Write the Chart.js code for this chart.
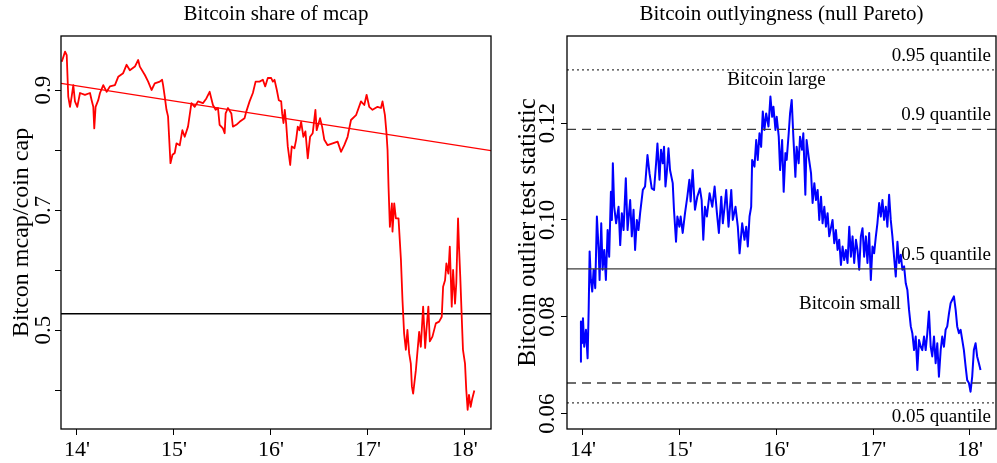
<!DOCTYPE html>
<html>
<head>
<meta charset="utf-8">
<script src="https://cdn.jsdelivr.net/npm/chart.js@4.4.1/dist/chart.umd.min.js"></script>
<style>
  html, body { margin: 0; padding: 0; background: #fff; }
  #wrap { position: relative; width: 997px; height: 463px; }
  #shareChart { position: absolute; left: 0; top: 0; }
  #outChart { position: absolute; left: 498px; top: 0; }
</style>
</head>
<body>
<div id="wrap">
  <canvas id="shareChart" width="498" height="463"></canvas>
  <canvas id="outChart" width="499" height="463"></canvas>
</div>
<script>
// ---- data ----
const yearTicks = [14, 15, 16, 17, 18];
const yearLabels = ["14'", "15'", "16'", "17'", "18'"];
const yearMin = 13.835, yearMax = 18.27;

// left panel: bitcoin share of total coin cap
const shareYears = [13.843,13.877,13.894,13.910,13.928,13.945,13.962,13.979,14.003,14.031,
  14.082,14.134,14.151,14.168,14.178,14.192,14.219,14.237,14.271,14.306,
  14.340,14.391,14.425,14.476,14.511,14.545,14.597,14.631,14.648,14.700,
  14.734,14.769,14.802,14.854,14.878,14.888,14.905,14.923,14.939,14.964,
  14.985,15.008,15.026,15.060,15.087,15.111,15.145,15.170,15.180,15.214,
  15.248,15.299,15.334,15.368,15.402,15.430,15.454,15.471,15.505,15.523,
  15.533,15.557,15.592,15.608,15.643,15.677,15.728,15.746,15.780,15.814,
  15.842,15.883,15.917,15.941,15.968,16.003,16.020,16.037,16.061,16.081,
  16.106,16.116,16.130,16.143,16.157,16.174,16.199,16.215,16.243,16.260,
  16.277,16.294,16.312,16.335,16.356,16.380,16.404,16.431,16.459,16.472,
  16.507,16.528,16.551,16.585,16.637,16.688,16.723,16.757,16.791,16.826,
  16.878,16.929,16.963,16.987,17.014,17.048,17.100,17.135,17.151,17.176,
  17.192,17.203,17.213,17.227,17.248,17.254,17.272,17.289,17.316,17.341,
  17.357,17.374,17.392,17.408,17.426,17.443,17.454,17.467,17.495,17.529,
  17.546,17.570,17.591,17.604,17.624,17.639,17.666,17.701,17.735,17.762,
  17.776,17.796,17.810,17.830,17.845,17.865,17.879,17.899,17.912,17.930,
  17.940,17.953,17.968,17.981,18.002,18.015,18.029,18.043,18.060,18.077,18.098];
const shareValues = [0.947,0.964,0.958,0.889,0.872,0.889,0.908,0.881,0.872,0.895,
  0.892,0.895,0.883,0.872,0.836,0.872,0.883,0.895,0.908,0.897,
  0.906,0.908,0.922,0.928,0.942,0.933,0.939,0.950,0.939,0.925,
  0.914,0.900,0.911,0.914,0.917,0.908,0.889,0.867,0.856,0.778,
  0.792,0.795,0.811,0.808,0.833,0.822,0.839,0.867,0.878,0.872,
  0.881,0.878,0.886,0.897,0.875,0.867,0.870,0.842,0.836,0.828,
  0.861,0.870,0.861,0.839,0.842,0.847,0.853,0.864,0.881,0.895,
  0.914,0.914,0.917,0.906,0.920,0.920,0.914,0.917,0.900,0.883,
  0.881,0.861,0.845,0.867,0.845,0.806,0.775,0.806,0.803,0.817,
  0.839,0.833,0.847,0.822,0.831,0.786,0.822,0.828,0.867,0.833,
  0.853,0.839,0.817,0.808,0.811,0.814,0.797,0.808,0.822,0.850,
  0.858,0.881,0.875,0.892,0.872,0.867,0.872,0.870,0.881,0.858,
  0.828,0.800,0.739,0.672,0.711,0.664,0.711,0.686,0.686,0.617,
  0.550,0.494,0.467,0.500,0.461,0.444,0.406,0.394,0.433,0.497,
  0.472,0.539,0.470,0.500,0.539,0.481,0.489,0.511,0.514,0.522,
  0.572,0.583,0.611,0.594,0.639,0.539,0.600,0.544,0.578,0.686,
  0.639,0.589,0.522,0.467,0.444,0.400,0.367,0.392,0.372,0.386,0.399];
const trendEnds = [0.911, 0.799];   // red fitted line at yearMin / yearMax
const shareMean = 0.527;            // black horizontal line
const shareTicks = [0.4, 0.5, 0.6, 0.7, 0.8, 0.9];
const shareTickLabels = ['', '0.5', '', '0.7', '', '0.9'];

// right panel: outlier test statistic
const outYears = [13.972,13.979,13.990,14.000,14.013,14.031,14.048,14.059,14.069,14.082,
  14.096,14.110,14.127,14.144,14.162,14.172,14.189,14.203,14.220,14.237,
  14.255,14.271,14.289,14.299,14.309,14.323,14.343,14.368,14.385,14.402,
  14.420,14.443,14.461,14.488,14.505,14.523,14.539,14.557,14.574,14.591,
  14.619,14.642,14.667,14.688,14.711,14.735,14.756,14.770,14.791,14.807,
  14.825,14.838,14.853,14.866,14.884,14.900,14.928,14.941,14.962,14.976,
  14.997,15.010,15.031,15.055,15.079,15.100,15.113,15.134,15.158,15.182,
  15.209,15.227,15.244,15.261,15.281,15.309,15.337,15.361,15.385,15.405,
  15.430,15.446,15.464,15.481,15.505,15.533,15.549,15.577,15.601,15.619,
  15.646,15.670,15.688,15.704,15.722,15.739,15.749,15.773,15.791,15.807,
  15.825,15.842,15.859,15.876,15.894,15.918,15.938,15.956,15.969,15.990,
  16.003,16.024,16.038,16.059,16.075,16.093,16.106,16.127,16.141,16.158,
  16.175,16.196,16.209,16.230,16.244,16.265,16.278,16.299,16.312,16.333,
  16.358,16.374,16.392,16.409,16.426,16.443,16.461,16.477,16.495,16.512,
  16.529,16.546,16.580,16.598,16.615,16.632,16.649,16.667,16.684,16.701,
  16.718,16.735,16.753,16.770,16.787,16.804,16.822,16.838,16.856,16.873,
  16.890,16.907,16.925,16.941,16.959,16.976,16.993,17.010,17.028,17.044,
  17.062,17.079,17.096,17.113,17.131,17.147,17.165,17.182,17.199,17.216,
  17.234,17.251,17.268,17.286,17.302,17.320,17.337,17.354,17.371,17.389,
  17.405,17.423,17.440,17.457,17.474,17.492,17.508,17.526,17.543,17.560,
  17.577,17.595,17.611,17.629,17.646,17.663,17.680,17.698,17.714,17.732,
  17.749,17.766,17.784,17.801,17.818,17.835,17.853,17.869,17.887,17.904,
  17.921,17.938,17.956,17.972,17.990,18.007,18.024,18.041,18.059,18.075,18.093,18.110];
const outValues = [0.0707,0.0790,0.0745,0.0797,0.0738,0.0773,0.0714,0.0814,0.0935,0.0876,
  0.0852,0.0897,0.0859,0.1007,0.0938,0.0876,0.0993,0.0897,0.0938,0.0876,
  0.0979,0.0924,0.1058,0.1000,0.1117,0.1027,0.0993,0.1027,0.0948,0.1014,
  0.0979,0.1086,0.0979,0.1041,0.0966,0.1021,0.0938,0.1000,0.0979,0.1014,
  0.1062,0.1069,0.1134,0.1096,0.1065,0.1062,0.1117,0.1158,0.1083,0.1145,
  0.1117,0.1151,0.1069,0.1096,0.1148,0.1103,0.1076,0.1021,0.0955,0.1007,
  0.0986,0.1007,0.0973,0.1014,0.1048,0.1083,0.1038,0.1103,0.1021,0.1048,
  0.1065,0.1041,0.0959,0.1027,0.1007,0.1055,0.1027,0.1069,0.1014,0.0973,
  0.1048,0.0993,0.1027,0.1062,0.0986,0.1062,0.1000,0.1027,0.0986,0.0931,
  0.0993,0.0959,0.0986,0.0945,0.1007,0.1027,0.1124,0.1110,0.1165,0.1124,
  0.1179,0.1151,0.1224,0.1186,0.1220,0.1193,0.1255,0.1213,0.1234,0.1186,
  0.1213,0.1172,0.1103,0.1165,0.1058,0.1138,0.1124,0.1179,0.1220,0.1248,
  0.1172,0.1089,0.1151,0.1117,0.1172,0.1145,0.1179,0.1052,0.1165,0.1131,
  0.1096,0.1035,0.1076,0.1041,0.1062,0.1000,0.1048,0.0993,0.1027,0.0986,
  0.1014,0.0966,0.1000,0.0952,0.0979,0.0938,0.0959,0.0907,0.0945,0.0917,
  0.0938,0.0911,0.0986,0.0924,0.0966,0.0911,0.0959,0.0938,0.0897,0.0966,
  0.0983,0.0924,0.0966,0.0911,0.0973,0.0876,0.0945,0.0931,0.0966,0.0993,
  0.1035,0.1007,0.1041,0.1000,0.1027,0.0986,0.1052,0.1000,0.0966,0.0924,
  0.0883,0.0955,0.0911,0.0928,0.0897,0.0904,0.0869,0.0855,0.0814,0.0780,
  0.0766,0.0731,0.0759,0.0690,0.0752,0.0738,0.0731,0.0759,0.0731,0.0766,
  0.0811,0.0738,0.0718,0.0759,0.0704,0.0745,0.0676,0.0731,0.0759,0.0738,
  0.0773,0.0780,0.0807,0.0828,0.0835,0.0842,0.0814,0.0780,0.0766,0.0773,
  0.0752,0.0731,0.0697,0.0669,0.0663,0.0645,0.0676,0.0731,0.0745,0.0718,0.0704,0.0690];
const quantileNames = ['0.95 quantile', '0.9 quantile', '0.5 quantile', '0.1 quantile', '0.05 quantile'];
const quantileValues = [0.131, 0.1187, 0.0899, 0.0663, 0.0622];
const quantileDash = [[2, 3], [9, 6], [], [9, 6], [2, 3]];
const quantileLabelSide = [1, 1, 1, 0, -1];   // 1 above, -1 below, 0 no label
const outTicks = [0.06, 0.08, 0.10, 0.12];
const noteTexts = ['Bitcoin large', 'Bitcoin small'];
const noteYears = [16.0, 16.76];
const noteValues = [0.1289, 0.0826];

const FONT = '"Liberation Serif", "Times New Roman", serif';

function pts(xs, ys) {
  return xs.map((x, i) => ({ x: x, y: ys[i] }));
}
function hline(v) {
  return [{ x: yearMin, y: v }, { x: yearMax, y: v }];
}

// box around the plot + title above it + text notes
const framePlugin = {
  id: 'frame',
  afterDraw(chart, args, opts) {
    const { ctx, chartArea: a } = chart;
    ctx.save();
    ctx.strokeStyle = '#000';
    ctx.lineWidth = 1.3;
    ctx.strokeRect(a.left, a.top, a.right - a.left, a.bottom - a.top);
    ctx.fillStyle = '#000';
    ctx.font = '21px ' + FONT;
    ctx.textAlign = 'center';
    ctx.textBaseline = 'middle';
    ctx.fillText(opts.title, (a.left + a.right) / 2, 14);

    if (opts.notes) {
      const xs = chart.scales.x, ys = chart.scales.y;
      ctx.font = '19px ' + FONT;
      quantileNames.forEach((name, i) => {
        const side = quantileLabelSide[i];
        if (!side) return;
        ctx.textAlign = 'right';
        ctx.fillText(name, a.right - 5, ys.getPixelForValue(quantileValues[i]) - side * 14);
      });
      ctx.textAlign = 'center';
      noteTexts.forEach((t, i) => {
        ctx.fillText(t, xs.getPixelForValue(noteYears[i]), ys.getPixelForValue(noteValues[i]));
      });
    }
    ctx.restore();
  }
};

function xAxis() {
  return {
    type: 'linear', min: yearMin, max: yearMax,
    afterBuildTicks: s => { s.ticks = yearTicks.map(v => ({ value: v })); },
    afterFit: s => { s.height = 34; },
    border: { display: false },
    grid: { drawOnChartArea: false, drawTicks: true, tickLength: 6, color: '#000', lineWidth: 1 },
    ticks: { color: '#000', font: { family: FONT, size: 22 }, padding: 2, autoSkip: false,
      maxRotation: 0, callback: (v, i) => yearLabels[i] }
  };
}

function yAxis(min, max, ticks, labels, title, width, pad, titleSize) {
  return {
    type: 'linear', min: min, max: max,
    afterBuildTicks: s => { s.ticks = ticks.map(v => ({ value: v })); },
    afterFit: s => { s.width = width; },
    border: { display: false },
    grid: { drawOnChartArea: false, drawTicks: true, tickLength: 6, color: '#000', lineWidth: 1 },
    ticks: { color: '#000', font: { family: FONT, size: 23 }, padding: pad, autoSkip: false,
      minRotation: 90, maxRotation: 90, crossAlign: 'center', callback: (v, i) => labels[i] },
    title: { display: true, text: title, color: '#000', font: { family: FONT, size: titleSize }, padding: 0 }
  };
}

const common = {
  responsive: false,
  animation: false,
  events: [],
  plugins: { legend: { display: false }, tooltip: { enabled: false }, title: { display: false } },
  elements: { point: { radius: 0 }, line: { tension: 0, borderJoinStyle: 'round' } }
};

new Chart(document.getElementById('shareChart'), {
  type: 'line',
  data: {
    datasets: [
      { data: pts(shareYears, shareValues), borderColor: '#ff0000', borderWidth: 1.8 },
      { data: [{ x: yearMin, y: trendEnds[0] }, { x: yearMax, y: trendEnds[1] }], borderColor: '#ff0000', borderWidth: 1.4 },
      { data: hline(shareMean), borderColor: '#000', borderWidth: 1.4 }
    ]
  },
  options: Object.assign({}, common, {
    layout: { padding: { left: 7, right: 7, top: 36, bottom: 0 } },
    scales: {
      x: xAxis(),
      y: yAxis(0.335, 0.99, shareTicks, shareTickLabels, 'Bitcon mcap/coin cap', 54, -3.5, 24)
    },
    plugins: Object.assign({}, common.plugins, { frame: { title: 'Bitcoin share of mcap' } })
  }),
  plugins: [framePlugin]
});

new Chart(document.getElementById('outChart'), {
  type: 'line',
  data: {
    datasets: quantileValues.map((v, i) => ({
      data: hline(v), borderColor: '#3c3c3c', borderWidth: 1.3, borderDash: quantileDash[i]
    })).concat([
      { data: pts(outYears, outValues), borderColor: '#0000ff', borderWidth: 2 }
    ])
  },
  options: Object.assign({}, common, {
    layout: { padding: { left: 15, right: 1, top: 36, bottom: 0 } },
    scales: {
      x: xAxis(),
      y: yAxis(0.0568, 0.138, outTicks, outTicks.map(v => v.toFixed(2)), 'Bitcoin outlier test statistic', 54, -7.5, 25)
    },
    plugins: Object.assign({}, common.plugins, { frame: { title: 'Bitcoin outlyingness (null Pareto)', notes: true } })
  }),
  plugins: [framePlugin]
});
</script>
</body>
</html>
